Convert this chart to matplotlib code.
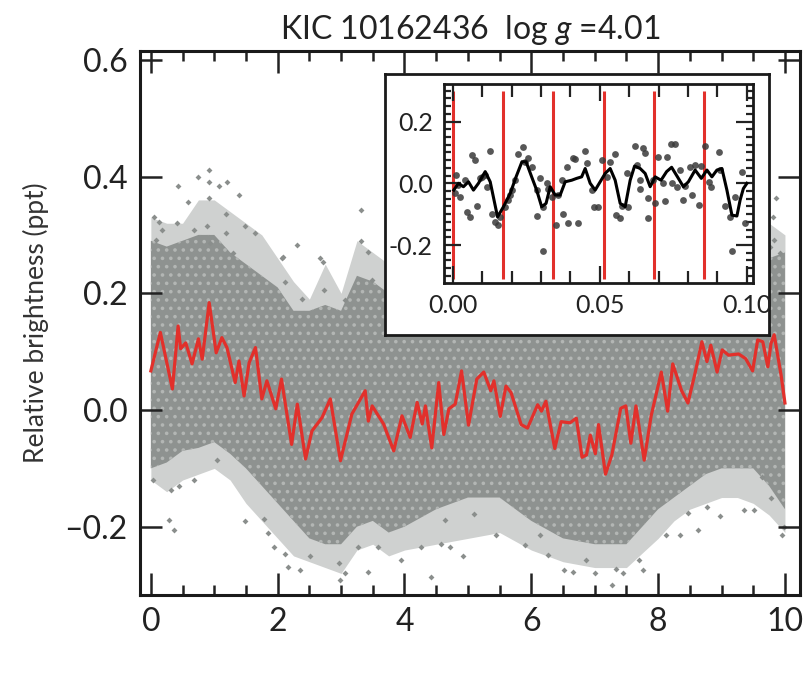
import numpy as np
import matplotlib
matplotlib.use('Agg')
from matplotlib import pyplot as plt
from matplotlib.ticker import MultipleLocator, FormatStrFormatter, FuncFormatter

plt.rcParams['font.family'] = ['Lato', 'DejaVu Sans']
plt.rcParams['mathtext.fontset'] = 'custom'
plt.rcParams['mathtext.it'] = 'Lato:italic'
plt.rcParams['mathtext.rm'] = 'Lato'
plt.rcParams['hatch.linewidth'] = 1.4

# smoothed light curve (red)
red_x = [0.0, 0.15, 0.34, 0.43, 0.47, 0.55, 0.65, 0.75, 0.81, 0.92, 1.03, 1.12, 1.20, 1.33, 1.39,
         1.47, 1.55, 1.65, 1.75, 1.83, 1.97, 2.06, 2.22, 2.31, 2.44, 2.54, 2.70, 2.83, 2.99, 3.17,
         3.38, 3.43, 3.49, 3.67, 3.83, 3.96, 4.09, 4.20, 4.28, 4.33, 4.43, 4.54, 4.62, 4.70, 4.80,
         4.90, 5.01, 5.14, 5.25, 5.36, 5.41, 5.51, 5.60, 5.68, 5.84, 5.94, 6.10, 6.16, 6.23, 6.37,
         6.47, 6.61, 6.71, 6.80, 6.87, 6.93, 7.01, 7.06, 7.17, 7.27, 7.41, 7.49, 7.57, 7.65, 7.78,
         7.89, 8.05, 8.15, 8.23, 8.37, 8.47, 8.58, 8.69, 8.77, 8.83, 8.93, 9.01, 9.11, 9.27, 9.38,
         9.49, 9.57, 9.65, 9.73, 9.78, 9.83, 9.94, 10.0]
red_y = [0.067, 0.133, 0.036, 0.144, 0.105, 0.115, 0.079, 0.122, 0.087, 0.184, 0.098, 0.124, 0.107, 0.047, 0.084,
         0.024, 0.081, 0.107, 0.019, 0.05, 0.002, 0.053, -0.059, 0.010, -0.084, -0.036, -0.013, 0.019, -0.087, -0.007,
         0.033, -0.019, 0.007, -0.024, -0.070, -0.010, -0.047, 0.013, -0.024, 0.007, -0.065, 0.047, -0.042, 0.002, 0.010,
         0.067, -0.026, 0.053, 0.065, 0.033, 0.050, -0.011, 0.041, 0.030, -0.025, -0.031, 0.009, -0.002, 0.015, -0.066,
         -0.020, -0.022, -0.014, -0.081, -0.077, -0.043, -0.075, -0.025, -0.110, -0.077, 0.003, 0.007, -0.057, 0.007, -0.086,
         -0.010, 0.065, -0.002, 0.079, 0.033, 0.012, 0.062, 0.117, 0.083, 0.111, 0.065, 0.103, 0.094, 0.096, 0.088,
         0.067, 0.120, 0.117, 0.074, 0.114, 0.129, 0.059, 0.012]

# gray point cloud: dense core edges and sparse outer edges
cloud_x = [0.0, 0.25, 0.5, 0.75, 1.0, 1.25, 1.5, 1.75, 2.0, 2.25, 2.5, 2.75, 3.0, 3.25, 3.5, 3.75, 4.0,
           4.5, 5.0, 5.5, 6.0, 6.5, 7.0, 7.5, 8.0, 8.25, 8.5, 8.75, 9.0, 9.25, 9.5, 9.75, 10.0]
cloud_hi = [0.29, 0.28, 0.29, 0.30, 0.30, 0.27, 0.25, 0.23, 0.21, 0.17, 0.17, 0.18, 0.17, 0.23, 0.22, 0.20, 0.22,
            0.22, 0.22, 0.22, 0.22, 0.22, 0.22, 0.22, 0.22, 0.24, 0.25, 0.25, 0.25, 0.25, 0.25, 0.26, 0.27]
cloud_lo = [-0.10, -0.09, -0.07, -0.065, -0.055, -0.075, -0.10, -0.13, -0.16, -0.19, -0.22, -0.23, -0.23, -0.20,
            -0.19, -0.21, -0.20, -0.17, -0.15, -0.15, -0.19, -0.22, -0.23, -0.23, -0.17, -0.15, -0.13, -0.11,
            -0.10, -0.10, -0.10, -0.13, -0.17]
sparse_hi = [0.33, 0.32, 0.32, 0.36, 0.36, 0.34, 0.32, 0.30, 0.26, 0.22, 0.19, 0.25, 0.20, 0.29, 0.27, 0.25, 0.25,
             0.25, 0.25, 0.25, 0.25, 0.25, 0.25, 0.25, 0.25, 0.26, 0.27, 0.27, 0.27, 0.27, 0.28, 0.32, 0.30]
sparse_lo = [-0.12, -0.14, -0.12, -0.11, -0.10, -0.12, -0.16, -0.19, -0.22, -0.25, -0.26, -0.27, -0.28, -0.24,
             -0.23, -0.25, -0.24, -0.23, -0.22, -0.21, -0.24, -0.26, -0.27, -0.27, -0.22, -0.19, -0.17, -0.16,
             -0.15, -0.15, -0.16, -0.18, -0.21]

# scattered points outside the dense cloud
out_x = [0.08, 0.18, 0.42, 0.68, 0.89, 0.94, 1.18, 1.49, 1.65, 1.30, 2.09, 2.30, 2.12, 2.38, 2.67, 2.72, 2.73,
         3.06, 3.32, 3.43, 3.48, 0.92, 0.75, 0.91, 1.20, 0.43, 1.07, 1.39, 0.59, 0.92, 1.18, 3.31, 0.05, 0.13,
         2.07, 9.86, 9.81, 9.83, 9.92, 9.77,
         0.29, 0.37, 0.32, 0.03, 0.44, 0.68, 1.05, 1.49, 1.78, 1.85, 1.94, 2.12, 2.17, 2.35, 2.51, 2.96, 2.98,
         3.06, 3.43, 3.26, 3.58, 3.95, 4.26, 4.42, 4.57, 4.71, 4.92, 4.64, 5.45, 5.10, 5.90, 6.13, 6.27, 6.51,
         6.65, 6.86, 7.00, 7.28, 7.34, 7.45, 7.76, 7.70, 8.13, 8.34, 8.47, 8.77, 8.98, 9.35, 9.51, 9.64, 9.78,
         9.96, 9.99, 8.63]
out_y = [0.291, 0.309, 0.32, 0.309, 0.315, 0.286, 0.303, 0.315, 0.303, 0.269, 0.263, 0.283, 0.220, 0.191, 0.260,
         0.254, 0.206, 0.189, 0.289, 0.271, 0.223, 0.411, 0.399, 0.391, 0.391, 0.384, 0.383, 0.369, 0.357, 0.364,
         0.336, 0.342, 0.331, 0.323, 0.260, 0.363, 0.331, 0.291, 0.269, 0.28,
         -0.189, -0.206, -0.137, -0.12, -0.131, -0.12, -0.086, -0.191, -0.186, -0.211, -0.234, -0.246, -0.269,
         -0.274, -0.251, -0.263, -0.291, -0.280, -0.277, -0.234, -0.234, -0.257, -0.234, -0.286, -0.229, -0.234,
         -0.251, -0.189, -0.214, -0.179, -0.231, -0.214, -0.248, -0.274, -0.277, -0.257, -0.280, -0.30, -0.272,
         -0.28, -0.274, -0.257, -0.214, -0.214, -0.176, -0.167, -0.181, -0.172, -0.172, -0.115, -0.15, -0.214,
         -0.2, -0.205]

# inset: zoom on the first 0.1 d
ins_x = [0.0011, 0.0008, 0.0019, 0.0025, 0.0042, 0.0047, 0.0057, 0.0065, 0.0074, 0.0082, 0.0093, 0.010, 0.011,
         0.0125, 0.0116, 0.0133, 0.0144, 0.0152, 0.0161, 0.0178, 0.0189, 0.0195, 0.020, 0.0212, 0.022, 0.0238,
         0.0246, 0.0257, 0.0268, 0.0285, 0.0285, 0.0297, 0.0306, 0.0308, 0.0319, 0.0325, 0.0337, 0.0351, 0.0359,
         0.037, 0.0376, 0.0388, 0.0393, 0.0408, 0.0416, 0.0427, 0.045, 0.0456, 0.0473, 0.0481,
         0.0495, 0.0507, 0.0524, 0.0535, 0.055, 0.0554, 0.0569, 0.0575, 0.0592, 0.0597, 0.0618, 0.0626, 0.0637,
         0.0637, 0.0645, 0.0654, 0.0663, 0.0665, 0.0679, 0.0688, 0.0699, 0.0716, 0.0722, 0.0727, 0.0742, 0.0756,
         0.0744, 0.0761, 0.0773, 0.0781, 0.079, 0.0807, 0.0813, 0.0824, 0.0838, 0.0845, 0.0858, 0.087, 0.0879,
         0.0904, 0.091, 0.0926, 0.0943, 0.0951, 0.096, 0.0983, 0.0992]
ins_y = [0.027, -0.032, -0.005, -0.044, 0.010, -0.092, -0.109, 0.092, 0.076, -0.074, 0.016, 0.021, 0.027,
         0.105, -0.011, -0.098, -0.125, -0.136, -0.109, -0.076, -0.054, -0.038, -0.022, 0.010, 0.095, 0.119,
         0.070, 0.081, 0.054, -0.022, -0.106, 0.016, -0.219, -0.076, -0.0005, -0.017, -0.044, -0.136, -0.038,
         0.010, -0.098, 0.052, -0.128, 0.081, 0.078, -0.130, 0.105, 0.065, -0.022, -0.076,
         -0.076, 0.076, 0.021, 0.070, 0.095, -0.103, -0.114, -0.074, 0.032, -0.076, 0.121, 0.059, 0.010,
         -0.017, 0.113, 0.097, -0.049, -0.114, 0.010, -0.065, 0.084, 0.0, -0.057, 0.084, 0.127, 0.127,
         0.0, -0.013, 0.043, -0.054, -0.008, 0.054, -0.038, 0.059, -0.070, 0.056, 0.121, 0.005, -0.013,
         0.100, 0.043, -0.074, -0.109, -0.219, -0.044, 0.038, -0.128]
line_x = [0.0003, 0.0019, 0.0036, 0.0053, 0.007, 0.0087, 0.011, 0.0127, 0.0152, 0.0172, 0.0195, 0.0215, 0.0235,
          0.0249, 0.0268, 0.0285, 0.0302, 0.0317, 0.0331, 0.0348, 0.0365, 0.0382, 0.0404, 0.0421, 0.0438, 0.045,
          0.0467, 0.0484, 0.0501, 0.0518, 0.0535, 0.0552, 0.0569, 0.0586, 0.0603, 0.0618, 0.0637, 0.0654, 0.0671,
          0.0688, 0.0708, 0.0727, 0.0744, 0.0767, 0.0784, 0.0801, 0.0824, 0.0845, 0.0864, 0.0881, 0.0898, 0.0915,
          0.0932, 0.0949, 0.0966, 0.0977, 0.0988, 0.1]
line_y = [-0.022, 0.0, -0.011, 0.005, -0.022, 0.0, 0.038, 0.005, -0.109, -0.076, -0.033, 0.021, 0.070,
          0.070, 0.021, -0.022, -0.076, -0.065, -0.011, -0.038, -0.038, 0.005, 0.010, 0.016, 0.021, 0.048,
          0.0, -0.022, 0.005, 0.032, 0.048, 0.010, -0.065, -0.076, 0.010, 0.056, 0.048, 0.032, -0.011,
          0.021, 0.010, 0.038, 0.052, 0.016, -0.011, 0.005, 0.043, 0.016, 0.043, 0.021, 0.043, 0.048,
          -0.022, -0.103, -0.106, -0.054, -0.017, 0.0]
# red markers in the inset (one period apart)
period_x = [0.0, 0.0171, 0.0342, 0.0513, 0.0684, 0.0855]

fig = plt.figure(figsize=(8.05, 6.85), dpi=100)
ax = fig.add_axes([0.174, 0.1314, 0.820, 0.794])

ax.fill_between(cloud_x, sparse_lo, sparse_hi, color='#cfd1d0', lw=0, zorder=1)
ax.fill_between(cloud_x, cloud_lo, cloud_hi, facecolor='#8e9290', edgecolor='#b3b6b4', hatch='..', lw=0, zorder=1)
ax.scatter(out_x, out_y, s=9, marker='D', color='#8a8e8c', lw=0, zorder=1)
ax.plot(red_x, red_y, color='#e2302b', lw=2.3, zorder=3)

ax.set_xlim(-0.17, 10.24)
ax.set_ylim(-0.317, 0.615)
ax.xaxis.set_major_locator(MultipleLocator(2))
ax.xaxis.set_minor_locator(MultipleLocator(0.5))
ax.yaxis.set_major_locator(MultipleLocator(0.2))
ax.yaxis.set_major_formatter(FuncFormatter(lambda v, p: ('%.1f' % v).replace('-', '\u2013')))
ax.xaxis.set_major_formatter(FormatStrFormatter('%d'))
ax.tick_params(which='both', direction='in', top=True, right=True, width=1.8, labelsize=23, colors='#222222')
ax.tick_params(which='major', length=16, pad=9)
ax.tick_params(which='minor', length=7)
ax.tick_params(axis='y', which='minor', left=False, right=False)
for sp in ax.spines.values():
    sp.set_linewidth(2.2)
    sp.set_color('#1a1a1a')
ax.set_ylabel('Relative brightness (ppt)', fontsize=19, labelpad=11, color='#333333')
ax.set_title(r'KIC 10162436  log $g$ =4.01', fontsize=23, pad=9, color='#222222')

# white box behind the inset
box = fig.add_axes([0.4783, 0.5109, 0.477, 0.381])
box.set_xticks([])
box.set_yticks([])
for sp in box.spines.values():
    sp.set_linewidth(2.0)
    sp.set_color('#1a1a1a')

ins = fig.add_axes([0.5516, 0.5869, 0.3839, 0.2905])
ins.vlines(period_x, -0.31, 0.30, color='#e2302b', lw=2.2, zorder=1)
ins.scatter(ins_x, ins_y, s=24, color='#3a3a3a', alpha=0.85, lw=0, zorder=2)
ins.plot(line_x, line_y, color='black', lw=2.2, zorder=3)
ins.set_xlim(-0.003, 0.1021)
ins.set_ylim(-0.323, 0.322)
ins.xaxis.set_major_locator(MultipleLocator(0.05))
ins.xaxis.set_minor_locator(MultipleLocator(0.01))
ins.yaxis.set_major_locator(MultipleLocator(0.2))
ins.yaxis.set_minor_locator(MultipleLocator(0.025))
ins.xaxis.set_major_formatter(FormatStrFormatter('%.2f'))
ins.yaxis.set_major_formatter(FormatStrFormatter('%.1f'))
ins.tick_params(which='both', direction='in', top=True, right=True, width=1.6, labelsize=18, colors='#222222')
ins.tick_params(which='major', length=12, pad=8)
ins.tick_params(which='minor', length=5)
ins.tick_params(axis='x', which='minor', length=9)
for sp in ins.spines.values():
    sp.set_linewidth(2.0)
    sp.set_color('#1a1a1a')

fig.savefig('out.png', dpi=100)
